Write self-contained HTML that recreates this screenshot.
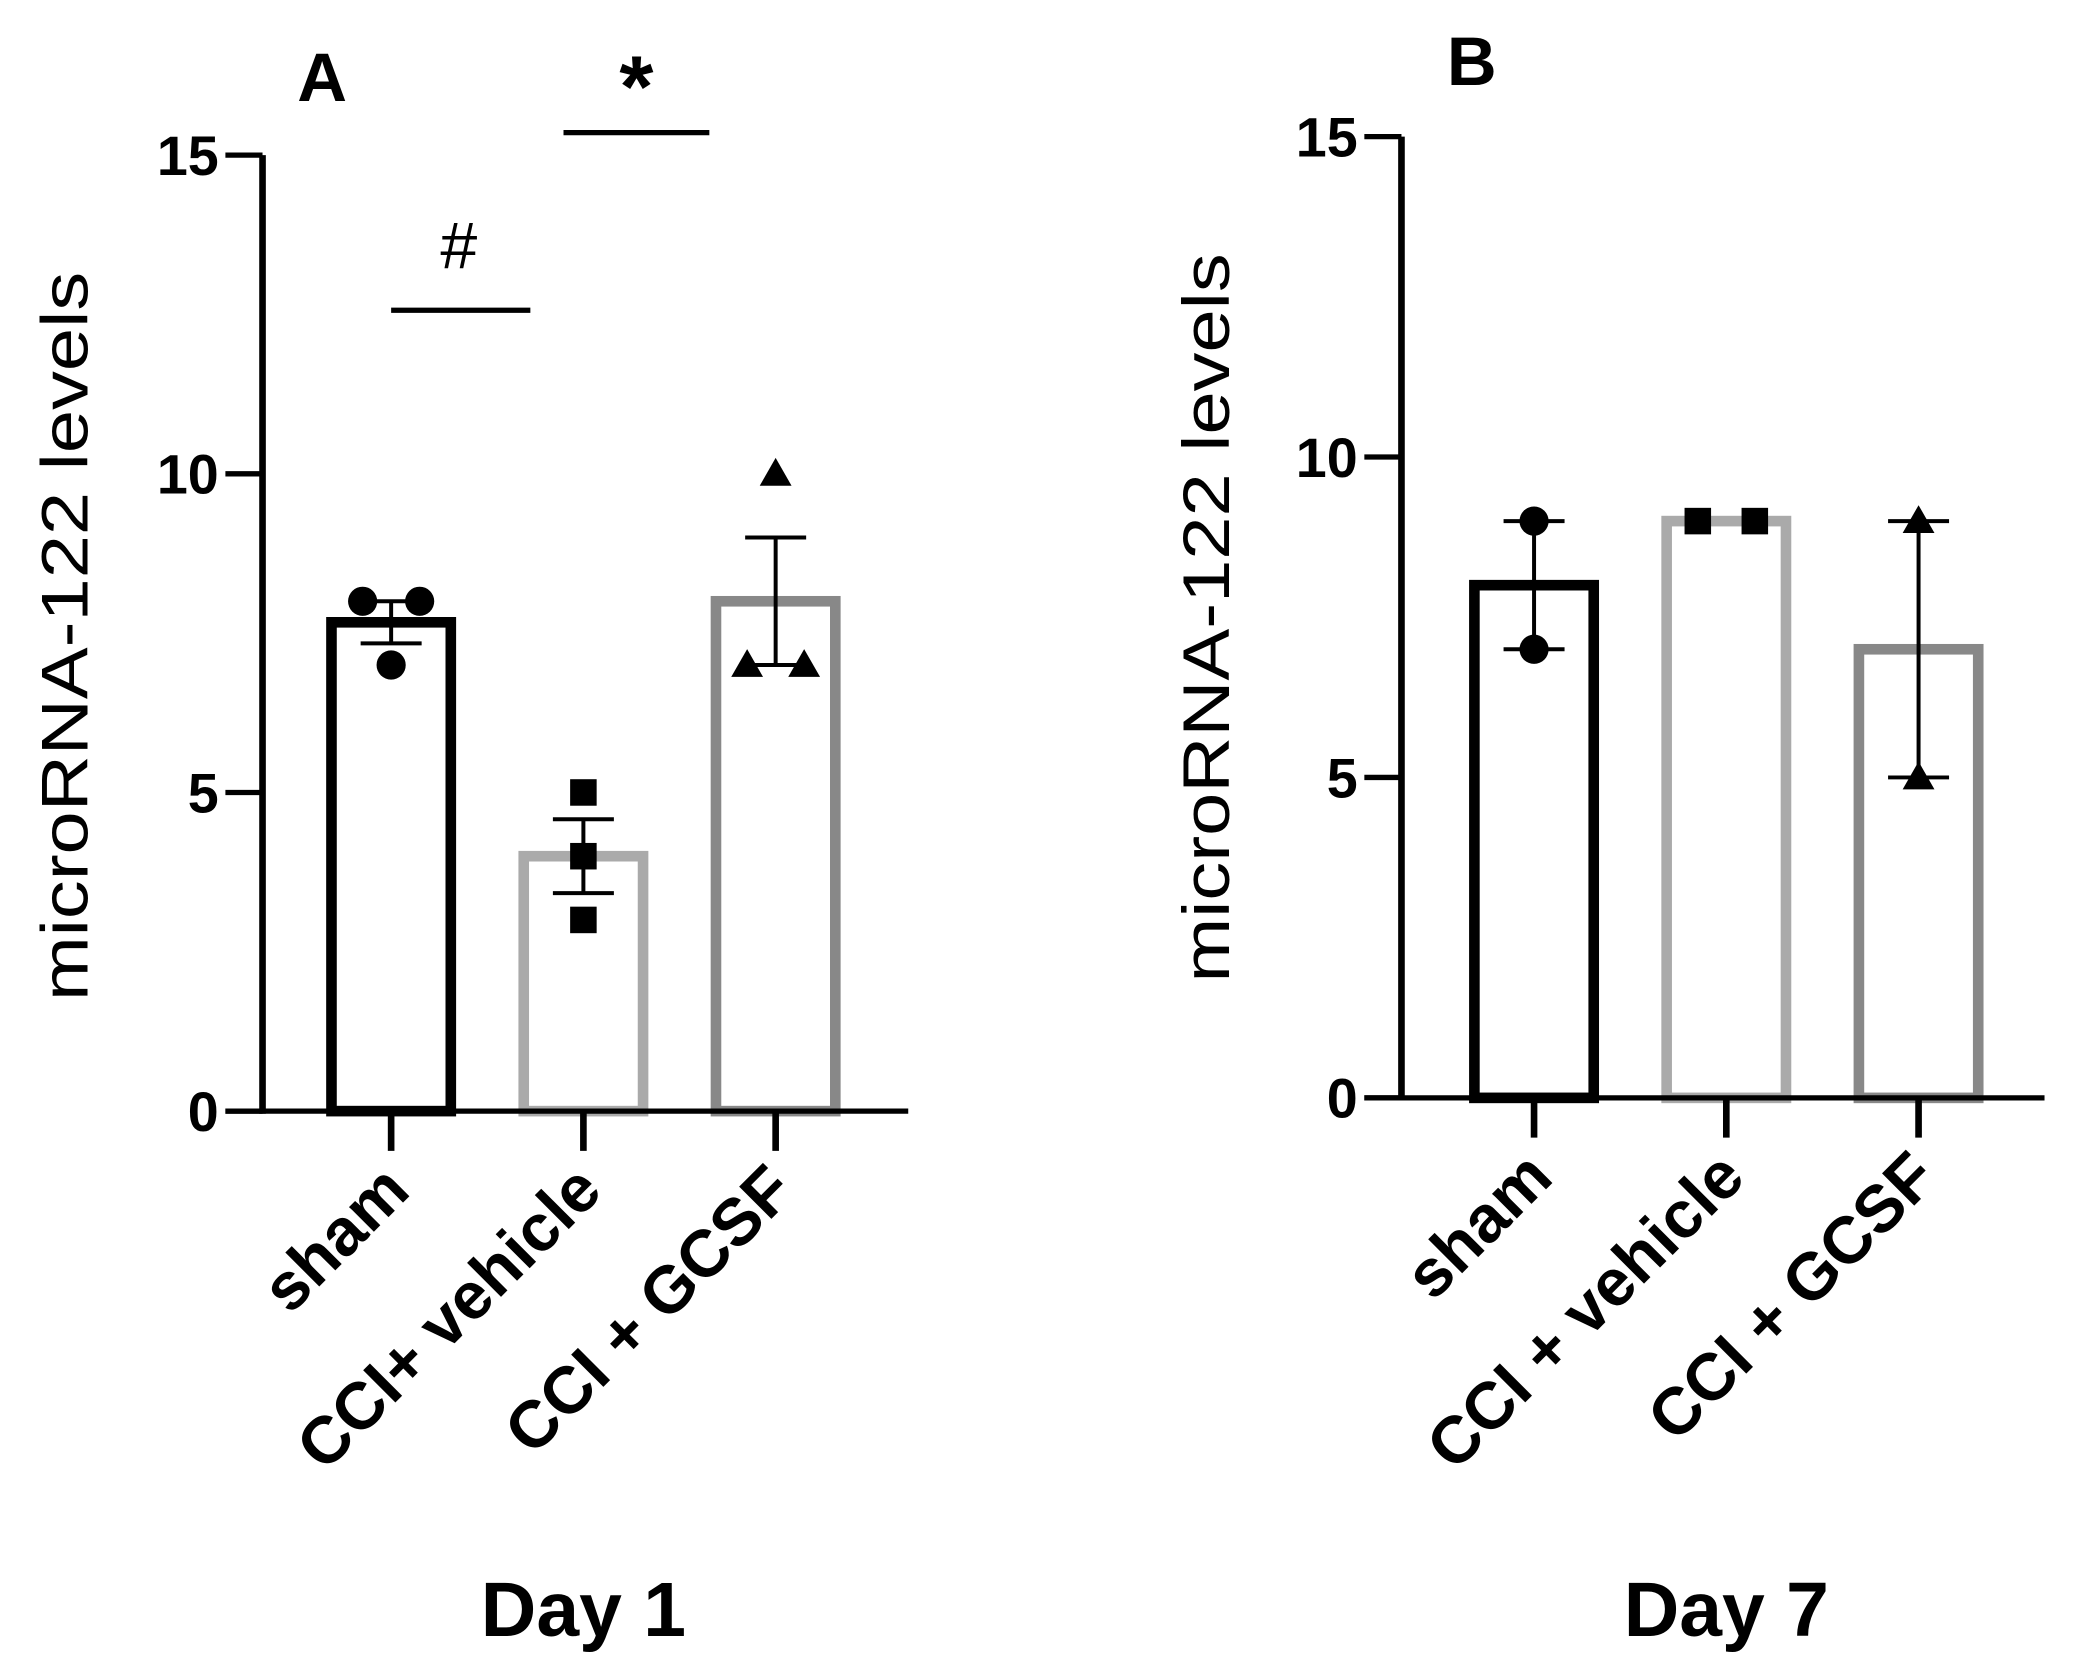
<!DOCTYPE html>
<html><head><meta charset="utf-8"><style>
html,body{margin:0;padding:0;background:#fff;}
svg{display:block;}
text{font-family:"Liberation Sans",Arial,sans-serif;}
</style></head><body>
<svg id="chart" width="2079" height="1672" viewBox="0 0 1568 1261" xmlns="http://www.w3.org/2000/svg"></svg>
<script>
const categoriesA = ["sham", "CCI+ vehicle", "CCI + GCSF"];
const categoriesB = ["sham", "CCI + vehicle", "CCI + GCSF"];
const meansA = [7.67, 4, 8];
const errA = [0.33, 0.58, 1];
const pointsA = [[8, 8, 7], [5, 4, 3], [10, 7, 7]];
const meansB = [8, 9, 7];
const errB = [1, 0, 2];
const pointsB = [[9, 7], [9, 9], [9, 5]];
const yTicks = [0, 5, 10, 15];
const colors = ["#000", "#aaa", "#888"];
const markers = ["circle", "square", "triangle"];

const NS = "http://www.w3.org/2000/svg";
const svg = document.getElementById("chart");
function mk(tag, attrs, parent) {
  const e = document.createElementNS(NS, tag);
  for (const k in attrs) e.setAttribute(k, attrs[k]);
  (parent || svg).appendChild(e);
  return e;
}

function panel(cfg) {
  const g = mk("g", {});
  
  
  const y = v => cfg.y0 - (v / 15) * (cfg.y0 - cfg.y15);
  const x = i => cfg.xs[0] + i * cfg.step;
  cfg.means.forEach((m, i) => {
    const r = mk("rect", {x: x(i) - 45, y: y(m), width: 90, height: y(0) - y(m), fill: "#fff", stroke: colors[i], "stroke-width": 8}, g);
    
    
  });
  const ya = mk("line", {x1: cfg.ax, y1: y(15), x2: cfg.ax, y2: y(0) + 2, stroke: "#000", "stroke-width": 5}, g);
  
  
  const xa = mk("line", {x1: cfg.ax - 28, y1: y(0), x2: cfg.xend, y2: y(0), stroke: "#000", "stroke-width": 4}, g);
  
  
  yTicks.forEach(t => {
    mk("line", {x1: cfg.ax - 28, y1: y(t), x2: cfg.ax, y2: y(t), stroke: "#000", "stroke-width": 4}, g);
    const tl = mk("text", {x: cfg.ax - 33, y: y(t) + 15, "text-anchor": "end", "font-size": 42, "font-weight": "bold"}, g);
    tl.textContent = t;
    
    
  });
  cfg.cats.forEach((c, i) => {
    mk("line", {x1: x(i), y1: y(0), x2: x(i), y2: y(0) + 30, stroke: "#000", "stroke-width": 5}, g);
    const tl = mk("text", {x: 0, y: 0, "text-anchor": "end", "font-size": 50, "font-weight": "bold", transform: `translate(${x(i) + 16},${y(0) + 62}) rotate(-45)`}, g);
    tl.textContent = c;
    
    
  });
  cfg.points.forEach((pts, i) => {
    pts.forEach((v, j) => {
      let off = 0;
      const same = pts.filter(p => p === v).length;
      if (same > 1) { const k = pts.slice(0, j).filter(p => p === v).length; off = (k - (same - 1) / 2) * 43; }
      const px = x(i) + off, py = y(v);
      let e;
      if (markers[i] === "circle") e = mk("circle", {cx: px, cy: py, r: 11, fill: "#000"}, g);
      else if (markers[i] === "square") e = mk("rect", {x: px - 10, y: py - 10, width: 20, height: 20, fill: "#000"}, g);
      else e = mk("polygon", {points: `${px},${py - 12} ${px - 12},${py + 9} ${px + 12},${py + 9}`, fill: "#000"}, g);
      
      
    });
  });
  cfg.means.forEach((m, i) => {
    if (!cfg.errs[i]) return;
    const hi = y(m + cfg.errs[i]), lo = y(m - cfg.errs[i]);
    const eg = mk("g", {stroke: "#000", "stroke-width": 3}, g);
    
    
    mk("line", {x1: x(i), y1: hi, x2: x(i), y2: lo}, eg);
    mk("line", {x1: x(i) - 23, y1: hi, x2: x(i) + 23, y2: hi}, eg);
    mk("line", {x1: x(i) - 23, y1: lo, x2: x(i) + 23, y2: lo}, eg);
  });
  const yt = mk("text", {x: 0, y: 0, "text-anchor": "middle", "font-size": 50, textLength: 550, lengthAdjust: "spacingAndGlyphs", transform: `translate(${cfg.ytx},${cfg.yty}) rotate(-90)`}, g);
  yt.textContent = "microRNA-122 levels";
  
  
  const xt = mk("text", {x: x(1), y: cfg.xty, "text-anchor": "middle", "font-size": 58, "font-weight": "bold"}, g);
  xt.textContent = cfg.xtitle;
  
  
  const pl = mk("text", {x: cfg.lx, y: cfg.ly, "text-anchor": "middle", "font-size": 52, "font-weight": "bold"}, g);
  pl.textContent = cfg.letter;
  
  
  return {g, y, x};
}

const A = panel({name: "panel-a", y0: 838, y15: 117, ax: 198, xend: 685, xs: [295], step: 145,
  cats: categoriesA, means: meansA, errs: errA, points: pointsA, ytx: 66, yty: 480,
  xty: 1234, xtitle: "Day 1", letter: "A", lx: 243, ly: 76});
const B = panel({name: "panel-b", y0: 828, y15: 103, ax: 1057, xend: 1542, xs: [1157], step: 145,
  cats: categoriesB, means: meansB, errs: errB, points: pointsB, ytx: 927, yty: 466,
  xty: 1234, xtitle: "Day 7", letter: "B", lx: 1110, ly: 64});

const s1 = mk("line", {x1: 295, y1: 234, x2: 400, y2: 234, stroke: "#000", "stroke-width": 4}, A.g);


const h = mk("text", {x: 346, y: 202, "text-anchor": "middle", "font-size": 50}, A.g);
h.textContent = "#";


const s2 = mk("line", {x1: 425, y1: 100, x2: 535, y2: 100, stroke: "#000", "stroke-width": 4}, A.g);


const st = mk("text", {x: 480, y: 88, "text-anchor": "middle", "font-size": 66, "font-weight": "bold"}, A.g);
st.textContent = "*";


</script>
</body></html>
